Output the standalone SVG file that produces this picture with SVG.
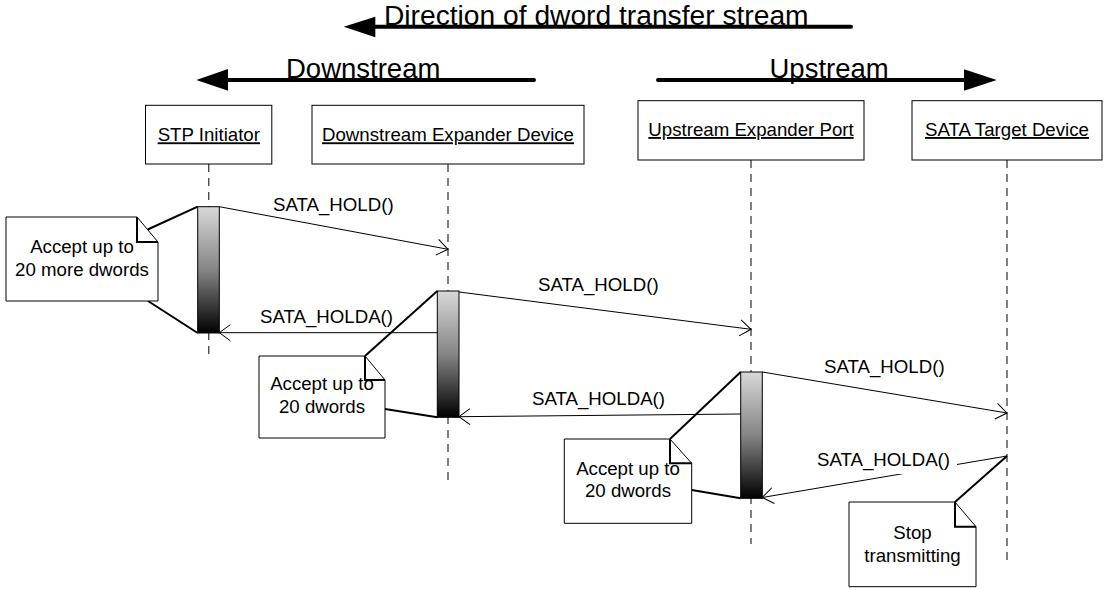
<svg xmlns="http://www.w3.org/2000/svg" width="1105" height="590" viewBox="0 0 1105 590">
  <style>
    text { font-family: "Liberation Sans", Arial, sans-serif; fill: #000; }
    .big { font-size: 27.5px; }
    .title { font-size: 28.2px; }
    .lbl { font-size: 18.67px; }
    .name { font-size: 18.67px; text-decoration: underline; text-anchor: middle; }
    .note-t { font-size: 18.67px; text-anchor: middle; }
    .box { fill: #fff; stroke: #000; stroke-width: 1; }
    .life { fill: none; stroke: #000; stroke-width: 1; stroke-dasharray: 8 6; }
    .bar { fill: url(#act); stroke: #000; stroke-width: 1; }
    .msg { fill: none; stroke: #000; stroke-width: 1; marker-end: url(#open); }
    .thick { fill: none; stroke: #000; stroke-width: 4; stroke-linecap: round; }
    .note { fill: #fff; stroke: #000; stroke-width: 1; }
    .fold { fill: none; stroke: #000; stroke-width: 2; }
    .link { fill: none; stroke: #000; stroke-width: 2; }
  </style>
  <defs>
    <linearGradient id="act" x1="0" y1="0" x2="0" y2="1">
      <stop offset="0" stop-color="#d8d8d8"/>
      <stop offset="0.5" stop-color="#858585"/>
      <stop offset="1" stop-color="#000"/>
    </linearGradient>
    <marker id="open" markerUnits="userSpaceOnUse" viewBox="-12 -9 13 18" refX="0" refY="0" markerWidth="13" markerHeight="18" orient="auto" overflow="visible">
      <path d="M-11,-8 L0,0 L-11,8" fill="none" stroke="#000" stroke-width="1"/>
    </marker>
  </defs>

  <!-- direction banners -->
  <g id="direction">
    <line class="thick" x1="360" y1="26.7" x2="851" y2="26.7"/>
    <polygon points="343.7,26.7 375.3,16.7 375.3,37.3" fill="#000"/>
    <text class="title" x="384" y="25">Direction of dword transfer stream</text>
  </g>
  <g id="downstream">
    <line class="thick" x1="215" y1="80" x2="534" y2="80"/>
    <polygon points="196.4,80 228,69 228,90.7" fill="#000"/>
    <text class="big" x="286" y="78.3">Downstream</text>
  </g>
  <g id="upstream">
    <line class="thick" x1="658" y1="80" x2="978" y2="80"/>
    <polygon points="996.7,80 964,69.3 964,90.7" fill="#000"/>
    <text class="big" x="769.5" y="78.3">Upstream</text>
  </g>

  <!-- participants -->
  <g id="stp-initiator">
    <rect class="box" x="145.5" y="105.3" width="126.3" height="58.7"/>
    <text class="name" x="208.8" y="141.3">STP Initiator</text>
    <line class="life" x1="208.8" y1="164" x2="208.8" y2="355"/>
  </g>
  <g id="downstream-expander">
    <rect class="box" x="312" y="105.3" width="272" height="58.7"/>
    <text class="name" x="448" y="141.3">Downstream Expander Device</text>
    <line class="life" x1="448" y1="164" x2="448" y2="482"/>
  </g>
  <g id="upstream-port">
    <rect class="box" x="638" y="100.7" width="226" height="59.3"/>
    <text class="name" x="751" y="136">Upstream Expander Port</text>
    <line class="life" x1="751" y1="160" x2="751" y2="544"/>
  </g>
  <g id="sata-target">
    <rect class="box" x="912" y="100.7" width="190" height="59.3"/>
    <text class="name" x="1007" y="136">SATA Target Device</text>
    <line class="life" x1="1007" y1="160" x2="1007" y2="565"/>
  </g>

  <!-- activation bars -->
  <g id="activations">
    <rect class="bar" x="197.7" y="206.7" width="21.6" height="126.3"/>
    <rect class="bar" x="437.3" y="291" width="21.7" height="126.3"/>
    <rect class="bar" x="740.7" y="372" width="21.6" height="126.3"/>
  </g>

  <!-- messages -->
  <g id="connectors">
    <line class="msg" x1="219.3" y1="206.7" x2="448" y2="249.3"/>
    <line class="msg" x1="437.3" y1="332.7" x2="219.3" y2="332.7"/>
    <line class="msg" x1="459" y1="292" x2="751" y2="329.3"/>
    <line class="msg" x1="740.7" y1="414" x2="459" y2="416.7"/>
    <line class="msg" x1="762.3" y1="372" x2="1007" y2="413"/>
    <line class="msg" x1="1007" y1="456" x2="762.3" y2="497.5"/>

    <!-- note anchors -->
    <line class="link" x1="147.7" y1="229.5" x2="197.7" y2="206.7"/>
    <line class="link" x1="148" y1="301" x2="197.7" y2="333"/>
    <line class="link" x1="365" y1="356" x2="437.3" y2="291"/>
    <line class="link" x1="385" y1="409" x2="437.3" y2="417.3"/>
    <line class="link" x1="670" y1="439" x2="740.7" y2="372"/>
    <line class="link" x1="691.7" y1="490" x2="740.7" y2="498.3"/>
    <line class="link" x1="955" y1="502" x2="1007" y2="456"/>
  </g>

  <!-- message labels -->
  <g id="labels">
    <text class="lbl" x="273" y="211">SATA_HOLD()</text>
    <text class="lbl" x="260" y="323">SATA_HOLDA()</text>
    <text class="lbl" x="538" y="291">SATA_HOLD()</text>
    <text class="lbl" x="532" y="405">SATA_HOLDA()</text>
    <text class="lbl" x="824" y="373">SATA_HOLD()</text>
    <rect x="815" y="448" width="142" height="26" fill="#fff"/>
    <text class="lbl" x="817" y="466">SATA_HOLDA()</text>
  </g>

  <!-- notes -->
  <g id="note-more-dwords">
    <path class="note" d="M6,217 H137 L158,242 V301 H6 Z"/>
    <path class="fold" d="M137,217 V242 H158"/>
    <text class="note-t" x="82" y="253">Accept up to</text>
    <text class="note-t" x="82" y="276">20 more dwords</text>
  </g>
  <g id="note-downstream">
    <path class="note" d="M259,356 H365 L385,380 V438 H259 Z"/>
    <path class="fold" d="M365,356 V380 H385"/>
    <text class="note-t" x="322" y="390">Accept up to</text>
    <text class="note-t" x="322" y="413">20 dwords</text>
  </g>
  <g id="note-upstream">
    <path class="note" d="M564.3,439 H670 L691.7,463.3 V523.3 H564.3 Z"/>
    <path class="fold" d="M670,439 V463.3 H691.7"/>
    <text class="note-t" x="628" y="475">Accept up to</text>
    <text class="note-t" x="628" y="497.3">20 dwords</text>
  </g>
  <g id="note-stop">
    <path class="note" d="M849,502 H955 L976,526.7 V586.7 H849 Z"/>
    <path class="fold" d="M955,502 V526.7 H976"/>
    <text class="note-t" x="912.5" y="539">Stop</text>
    <text class="note-t" x="912.5" y="562">transmitting</text>
  </g>
</svg>
